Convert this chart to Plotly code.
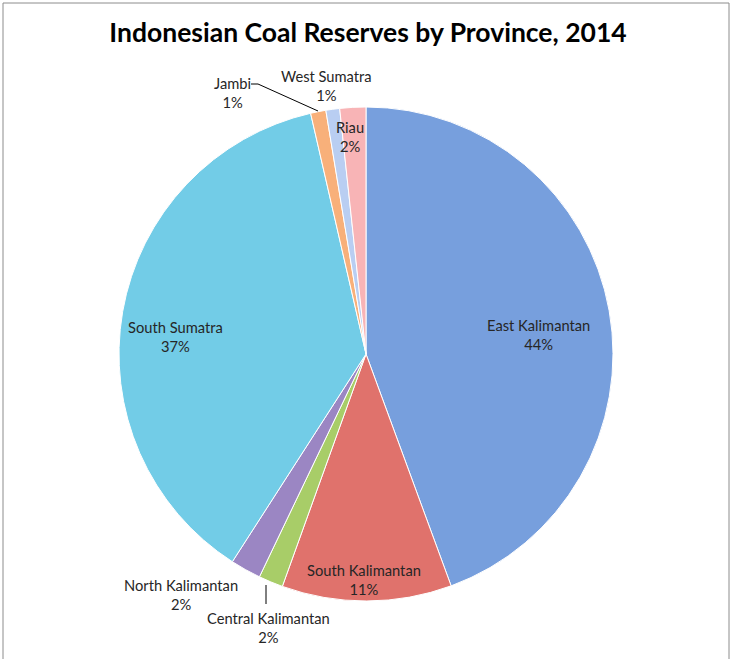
import plotly.graph_objects as go

W, H = 731, 659

provinces = ["East Kalimantan", "South Kalimantan", "Central Kalimantan", "North Kalimantan",
             "South Sumatra", "Jambi", "West Sumatra", "Riau"]
shares = [44.4, 11.1, 1.6, 2.0, 37.3, 1.0, 0.9, 1.7]
colors = ["#779fdd", "#e0726c", "#a8cd68", "#9b86c3", "#72cce7", "#f8b07a", "#b9cef2", "#f8b4b6"]

# label centres in pixels (layout only)
label_px = [(538, 334), (364, 579), (268, 627), (181, 594), (175, 336), (232, 92), (326, 86), (350, 136)]

total = sum(shares)

fig = go.Figure()
fig.add_trace(go.Pie(
    labels=provinces, values=shares, sort=False, direction="clockwise", rotation=0,
    marker=dict(colors=colors, line=dict(color="white", width=1)),
    textinfo="none", hoverinfo="label+percent", showlegend=False,
    domain=dict(x=[118 / W, 614 / W], y=[1 - 601 / H, 1 - 107 / H]),
))

def px(x, y):
    return x / W, 1 - y / H

annotations = []
for name, v, (lx, ly) in zip(provinces, shares, label_px):
    ax, ay = px(lx, ly)
    annotations.append(dict(
        x=ax, y=ay, xref="paper", yref="paper", showarrow=False,
        text=f"{name}<br>{round(v / total * 100)}%",
        font=dict(family="Lato", size=14.7, color="#262626"), align="center",
        xanchor="center", yanchor="middle",
    ))

shapes = [
    dict(type="rect", xref="paper", yref="paper", x0=3 / W, x1=729 / W, y0=-0.05, y1=1 - 3 / H,
         line=dict(color="#8c8c8c", width=1)),
    # leader line Jambi
    dict(type="path", xref="paper", yref="paper",
         path=f"M {251/W} {1-84/H} L {258/W} {1-84/H} L {318/W} {1-111/H}",
         line=dict(color="black", width=1)),
    # leader line Central Kalimantan
    dict(type="line", xref="paper", yref="paper", x0=266 / W, x1=266 / W, y0=1 - 585 / H, y1=1 - 604 / H,
         line=dict(color="black", width=1)),
]

fig.update_layout(
    width=W, height=H, margin=dict(l=0, r=0, t=0, b=0),
    paper_bgcolor="white", plot_bgcolor="white",
    title=dict(text="<b>Indonesian Coal Reserves by Province, 2014</b>", x=368 / W, xanchor="center",
               y=1 - 33 / H, yanchor="middle", yref="container",
               font=dict(family="Lato", size=26.5, color="black")),
    annotations=annotations, shapes=shapes,
)

fig.write_html("out.html")
